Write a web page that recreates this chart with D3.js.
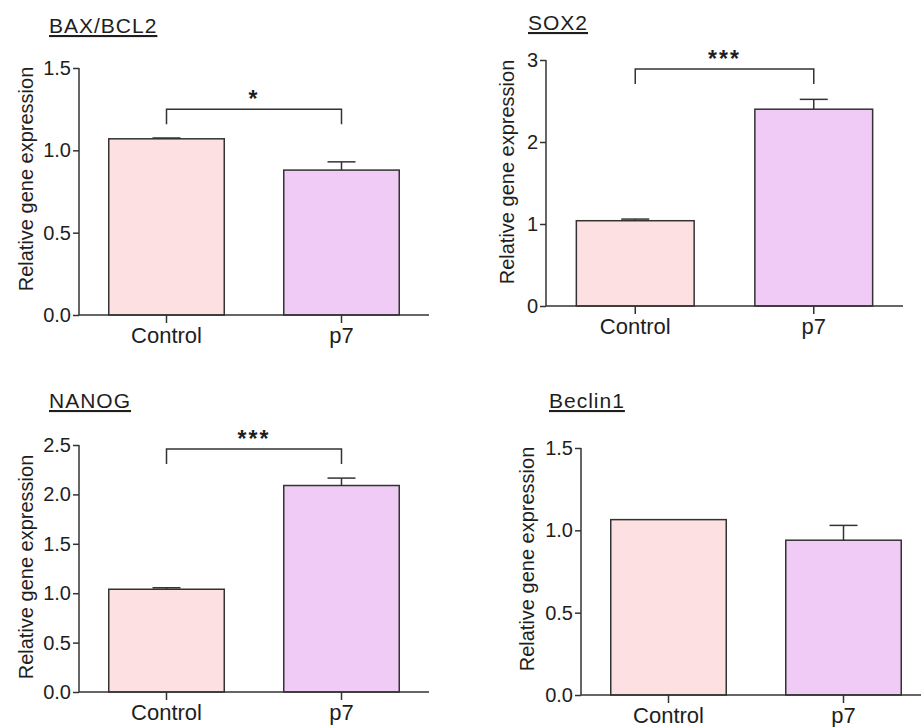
<!DOCTYPE html>
<html lang="en">
  <head>
    <meta charset="UTF-8" />
    <title>Relative gene expression</title>
    <style>
      body {
        margin: 0;
        background: #ffffff;
      }
      svg text {
        font-family: Arial, "Liberation Sans", sans-serif;
        fill: #1e1e1e;
      }
      .title {
        font-size: 21px;
        letter-spacing: 1px;
        text-decoration: underline;
      }
      .axis path,
      .axis line {
        stroke: #333333;
        stroke-width: 1.5px;
      }
      .axis text {
        font-size: 20px;
        fill: #1e1e1e;
      }
      .x-axis text {
        font-size: 22px;
      }
      .ylabel {
        font-size: 20px;
      }
      .bar {
        stroke: #333333;
        stroke-width: 1.5px;
      }
      .err,
      .bracket {
        stroke: #333333;
        stroke-width: 1.5px;
        fill: none;
      }
      .stars {
        font-size: 23px;
        font-weight: bold;
        letter-spacing: 2px;
      }
    </style>
  </head>
  <body>
    <div id="chart"></div>

    <script src="https://d3js.org/d3.v7.min.js"></script>
    <script>
      // data
      const categories = ["Control", "p7"];
      const genes = ["BAX/BCL2", "SOX2", "NANOG", "Beclin1"];
      const meanValues = [
        [1.07, 0.88],
        [1.04, 2.4],
        [1.04, 2.09],
        [1.065, 0.94],
      ];
      const errValues = [
        [0.005, 0.05],
        [0.02, 0.12],
        [0.015, 0.075],
        [0, 0.09],
      ];
      const yMax = [1.5, 3, 2.5, 1.5];
      const yTicks = [
        [0, 0.5, 1.0, 1.5],
        [0, 1, 2, 3],
        [0, 0.5, 1.0, 1.5, 2.0, 2.5],
        [0, 0.5, 1.0, 1.5],
      ];
      const tickFormats = [".1f", "d", ".1f", ".1f"];
      const sigLabels = ["*", "***", "***", ""];
      const bracketLevels = [1.25, 2.89, 2.46, null];

      const barColors = ["#fde0e1", "#efcbf6"];

      // panel placement (axis origin, size, title and label positions)
      const panels = [
        { x: 79, y: 68, w: 350, h: 247, tx: 49, ty: 33, lx: -53, ly: 179 },
        { x: 546, y: 60, w: 357, h: 246, tx: 528, ty: 30, lx: -39, ly: 172 },
        { x: 79, y: 445, w: 350, h: 247, tx: 49, ty: 408, lx: -53, ly: 567 },
        { x: 581, y: 448, w: 350, h: 247, tx: 549, ty: 408, lx: -54, ly: 559 },
      ];

      const width = 921;
      const height = 727;

      const svg = d3
        .select("#chart")
        .append("svg")
        .attr("width", width)
        .attr("height", height);

      genes.forEach((gene, i) => {
        const p = panels[i];

        const x = d3.scaleBand().domain(categories).range([0, p.w]);
        const y = d3.scaleLinear().domain([0, yMax[i]]).range([p.h, 0]);
        const barW = x.bandwidth() * 0.66;

        const g = svg
          .append("g")
          .attr("transform", "translate(" + p.x + "," + p.y + ")");

        // title
        svg
          .append("text")
          .attr("class", "title")
          .attr("x", p.tx)
          .attr("y", p.ty)
          .text(gene);

        // bars
        g.selectAll("rect.bar")
          .data(categories)
          .enter()
          .append("rect")
          .attr("class", "bar")
          .attr("x", (d) => x(d) + (x.bandwidth() - barW) / 2)
          .attr("y", (d, j) => y(meanValues[i][j]))
          .attr("width", barW)
          .attr("height", (d, j) => p.h - y(meanValues[i][j]))
          .attr("fill", (d, j) => barColors[j]);

        // error bars (upper only)
        categories.forEach((c, j) => {
          if (!errValues[i][j]) return;
          const cx = x(c) + x.bandwidth() / 2;
          const top = y(meanValues[i][j] + errValues[i][j]);
          g.append("line")
            .attr("class", "err")
            .attr("x1", cx)
            .attr("x2", cx)
            .attr("y1", y(meanValues[i][j]))
            .attr("y2", top);
          g.append("line")
            .attr("class", "err")
            .attr("x1", cx - 14)
            .attr("x2", cx + 14)
            .attr("y1", top)
            .attr("y2", top);
        });

        // axes
        g.append("g")
          .attr("class", "axis y-axis")
          .call(
            d3
              .axisLeft(y)
              .tickValues(yTicks[i])
              .tickSize(6)
              .tickPadding(2)
              .tickFormat(d3.format(tickFormats[i]))
          )
          .call((a) => a.select(".domain").attr("d", "M0," + p.h + "V0"));

        g.append("g")
          .attr("class", "axis x-axis")
          .attr("transform", "translate(0," + p.h + ")")
          .call(d3.axisBottom(x).tickSize(8).tickPadding(4))
          .call((a) => a.select(".domain").attr("d", "M0,0H" + p.w));

        // y label
        g.append("text")
          .attr("class", "ylabel")
          .attr("text-anchor", "middle")
          .attr(
            "transform",
            "translate(" + p.lx + "," + (p.ly - p.y) + ") rotate(-90)"
          )
          .attr("dy", "0.35em")
          .text("Relative gene expression");

        // significance bracket
        if (bracketLevels[i] !== null) {
          const x1 = x(categories[0]) + x.bandwidth() / 2;
          const x2 = x(categories[1]) + x.bandwidth() / 2;
          const by = y(bracketLevels[i]);
          g.append("path")
            .attr("class", "bracket")
            .attr(
              "d",
              "M" + x1 + "," + (by + 15) + "V" + by + "H" + x2 + "V" + (by + 15)
            );
          g.append("text")
            .attr("class", "stars")
            .attr("text-anchor", "middle")
            .attr("x", (x1 + x2) / 2)
            .attr("y", by - 2)
            .text(sigLabels[i]);
        }
      });
    </script>
  </body>
</html>
